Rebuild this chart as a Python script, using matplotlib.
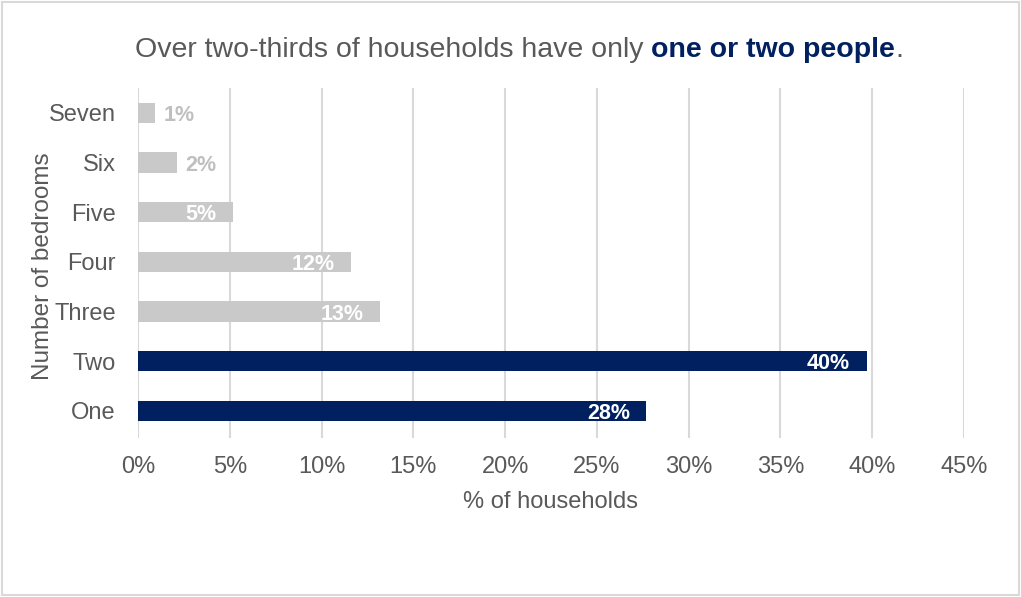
import matplotlib.pyplot as plt
from matplotlib.patches import Rectangle

plt.rcParams['font.family'] = ['Liberation Sans', 'DejaVu Sans']

# Datos
categorias = ["One", "Two", "Three", "Four", "Five", "Six", "Seven"]
valores = [27.7, 39.7, 13.2, 11.6, 5.2, 2.1, 0.94]
destacado = [True, True, False, False, False, False, False]
etiquetas_x = ["0%", "5%", "10%", "15%", "20%", "25%", "30%", "35%", "40%", "45%"]

AZUL = "#002060"
GRIS_BARRA = "#C9C9C9"
GRIS_TEXTO = "#595959"
GRIS_ETIQ = "#BFBFBF"

fig = plt.figure(figsize=(10.21, 5.97), dpi=100)
ax = fig.add_axes([138 / 1021, 1 - 438 / 597, 826 / 1021, 350 / 597])

colores = [AZUL if d else GRIS_BARRA for d in destacado]
ypos = list(range(len(categorias)))
ax.barh(ypos, valores, height=0.41, color=colores, zorder=3)

ax.set_xlim(0, 45)
ax.set_ylim(-0.55, 6.5)
ax.set_xticks(range(0, 50, 5))
ax.set_xticklabels(etiquetas_x)
ax.set_yticks(ypos)
ax.set_yticklabels(categorias)
ax.tick_params(axis='both', length=0, labelsize=17, colors=GRIS_TEXTO)
ax.tick_params(axis='x', pad=13)
ax.tick_params(axis='y', pad=16)
ax.grid(axis='x', color="#D9D9D9", linewidth=1.5, zorder=0)
for s in ax.spines.values():
    s.set_visible(False)

ax.set_xlabel("% of households", fontsize=17, color=GRIS_TEXTO)
ax.xaxis.set_label_coords(0.499, -0.15)
ax.set_ylabel("Number of bedrooms", fontsize=17.5, color=GRIS_TEXTO)
ax.yaxis.set_label_coords(-0.102, 0.49)

# Etiquetas de datos
for y, v, d in zip(ypos, valores, destacado):
    txt = f"{v:.0f}%"
    if v < 4:
        ax.annotate(txt, (v, y), xytext=(6, -2), textcoords="offset points",
                    ha="left", va="center", fontsize=15.5, fontweight="bold",
                    color=GRIS_ETIQ, zorder=4)
    else:
        ax.annotate(txt, (v, y), xytext=(-12, -2), textcoords="offset points",
                    ha="right", va="center", fontsize=15.5, fontweight="bold",
                    color="white", zorder=4)

# Título con parte en negrita
r = fig.canvas.get_renderer()
partes = [("Over two-thirds of households have only ", "normal", GRIS_TEXTO),
          ("one or two people", "bold", AZUL),
          (".", "normal", GRIS_TEXTO)]
objs = []
for texto, peso, col in partes:
    objs.append(fig.text(0, 1 - 57 / 597, texto, fontsize=20.5, fontweight=peso,
                         color=col, va="baseline", ha="left"))
anchos = [t.get_window_extent(r).width for t in objs]
total = sum(anchos)
x = 519 - total / 2
for t, w in zip(objs, anchos):
    t.set_x(x / 1021)
    x += w

fig.patches.append(Rectangle((0.002, 0.003), 0.996, 0.994, transform=fig.transFigure,
                             fill=False, edgecolor="#D9D9D9", linewidth=1.5))

fig.savefig("out.png", dpi=100)
